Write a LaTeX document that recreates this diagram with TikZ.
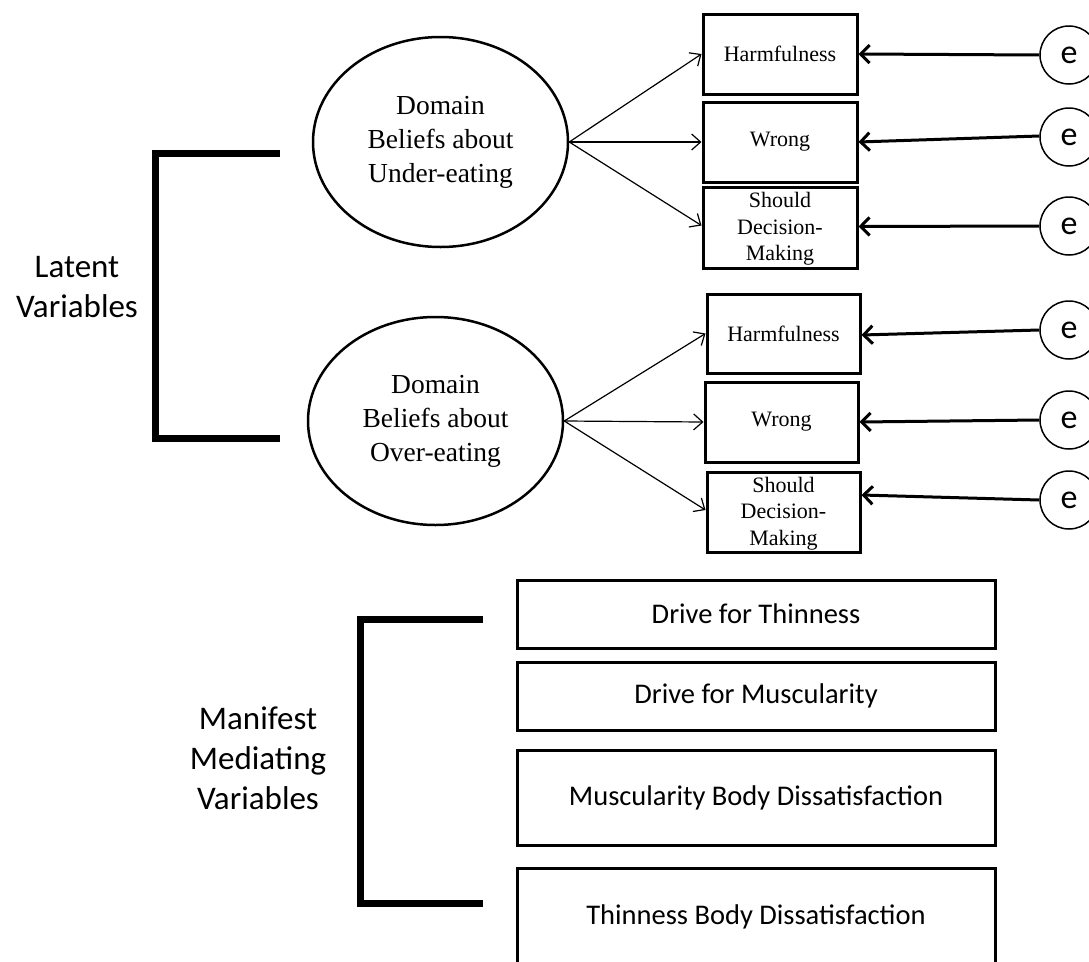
\documentclass[tikz,border=0pt]{standalone}
\usepackage{fontspec}
\usetikzlibrary{shapes.geometric,arrows.meta}
\newfontfamily\boxserif{Liberation Serif}
\newfontfamily\labelsans{Carlito}
\begin{document}
\begin{tikzpicture}[x=1pt,y=-1pt,
  latent/.style={ellipse,draw,line width=2.5pt,inner sep=0pt,
    minimum width=255pt,minimum height=210pt,align=center,
    font=\boxserif\fontsize{27.5}{34}\selectfont},
  indicator/.style={rectangle,draw,line width=3pt,inner sep=0pt,
    minimum width=154pt,minimum height=80pt,align=center,
    font=\boxserif\fontsize{22}{26.5}\selectfont},
  indtext/.style={align=center,inner sep=0pt,
    font=\boxserif\fontsize{22}{26.5}\selectfont},
  errterm/.style={circle,draw,line width=1.5pt,inner sep=0pt,
    minimum size=58pt,font=\labelsans\fontsize{34}{34}\selectfont},
  mediator/.style={rectangle,draw,line width=3pt,inner sep=0pt,
    minimum width=478pt,align=center,
    font=\labelsans\fontsize{28.5}{34}\selectfont},
  sidelabel/.style={align=center,inner sep=0pt,
    font=\labelsans\fontsize{33}{40}\selectfont},
  loading/.style={line width=1.2pt,-{Straight Barb[length=9pt,width=16pt,line width=1.2pt]}},
  residual/.style={line width=3pt,-{Straight Barb[length=9pt,width=18pt,line width=3pt]}},
  bracket/.style={line width=7pt}]

\useasboundingbox (0,0) rectangle (1089,961);
\clip (0,0) rectangle (1089,961);

% Latent factors
\node[latent] (under) at (440.5,142) {Domain\\Beliefs about\\Under-eating};
\node[latent,minimum height=208pt] (over) at (435.5,421) {Domain\\Beliefs about\\Over-eating};

% Indicators of the under-eating factor; the last label runs under the border
\node[indicator] (harmU)  at (780,54)  {Harmfulness};
\node[indicator] (wrongU) at (780,142) {Wrong};
\node[indtext] (shouldUtxt) at (780,229) {Should\\Decision-\\Making};
\node[indicator,minimum height=81pt] (shouldU) at (780,227.5) {};

% Indicators of the over-eating factor
\node[indicator,minimum width=153pt,minimum height=79pt] (harmO) at (783.5,333.5) {Harmfulness};
\node[indicator,minimum width=153pt] (wrongO) at (781.5,422) {Wrong};
\node[indtext] (shouldOtxt) at (783.5,513.5) {Should\\Decision-\\Making};
\node[indicator,minimum width=153pt] (shouldO) at (783.5,512) {};

% Error terms
\node[errterm] (e1) at (1069,55)  {e};
\node[errterm] (e2) at (1069,137) {e};
\node[errterm] (e3) at (1069,226) {e};
\node[errterm] (e4) at (1069,330) {e};
\node[errterm] (e5) at (1069,420) {e};
\node[errterm] (e6) at (1069,500) {e};

% Factor loadings
\draw[loading] (under.east) -- (harmU.west);
\draw[loading] (under.east) -- (wrongU.west);
\draw[loading] (under.east) -- ([yshift=2pt]shouldU.west);
\draw[loading] (over.east) -- (harmO.west);
\draw[loading] (over.east) -- (wrongO.west);
\draw[loading] (over.east) -- ([yshift=2pt]shouldO.west);

% Residual paths
\draw[residual] (e1.west) -- (harmU.east);
\draw[residual] ([yshift=1pt]e2.west) -- (wrongU.east);
\draw[residual] (e3.west) -- ([yshift=1pt]shouldU.east);
\draw[residual] (e4.west) -- ([yshift=-1.5pt]harmO.east);
\draw[residual] (e5.west) -- (wrongO.east);
\draw[residual] (e6.west) -- ([yshift=17pt]shouldO.east);

% Mediating variables
\node[mediator,minimum height=68pt] (dft) at (756,614)   {Drive for Thinness};
\node[mediator,minimum height=68pt] (dfm) at (756,696)   {Drive for Muscularity};
\node[mediator,minimum height=95pt] (mbd) at (756,797.5) {Muscularity Body Dissatisfaction};
\node[mediator,minimum height=98pt] (tbd) at (756,917)   {Thinness Body Dissatisfaction};

% Group brackets and their labels
\coordinate (latTop) at (280,153);
\coordinate (latBot) at (280,438);
\draw[bracket] (latTop) -- (155,153) -- (155,438) -- (latBot);
\node[sidelabel] (latLabel) at (77,287) {Latent\\Variables};

\coordinate (medTop) at (483,619);
\coordinate (medBot) at (483,903);
\draw[bracket] (medTop) -- (360,619) -- (360,903) -- (medBot);
\node[sidelabel] (medLabel) at (258,758) {Manifest\\Mediating\\Variables};
\end{tikzpicture}
\end{document}
